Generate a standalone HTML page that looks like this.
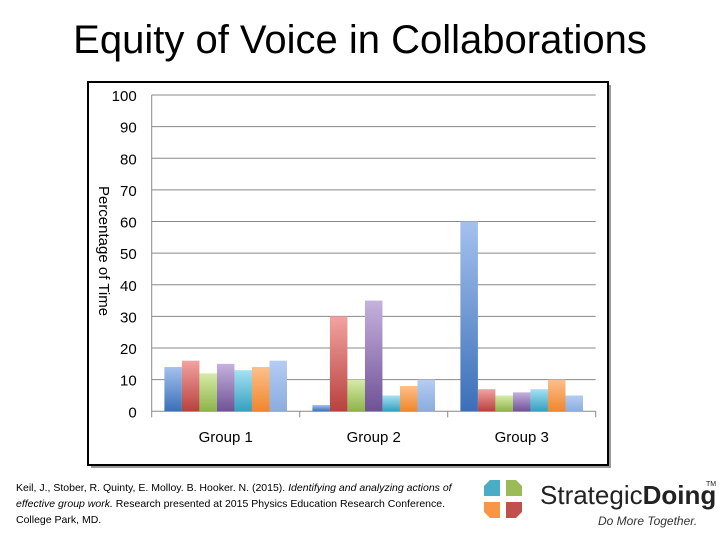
<!DOCTYPE html>
<html><head><meta charset="utf-8">
<style>
body{margin:0;width:720px;height:540px;background:#fff;font-family:"Liberation Sans",sans-serif;overflow:hidden;position:relative}
#title{position:absolute;left:0;top:18px;width:720px;text-align:center;font-size:40px;color:#000}
#cite{position:absolute;left:16px;top:480px;font-size:10.5px;line-height:16px;color:#000;width:460px;font-family:"Liberation Sans Narrow","Liberation Sans",sans-serif}
</style></head><body>
<div id="title">Equity of Voice in Collaborations</div>
<svg id="chart" width="720" height="540" style="position:absolute;left:0;top:0">
<defs></defs>
<rect x="91" y="85" width="520" height="383" fill="#999"/>
<rect x="88" y="82" width="520" height="383" fill="#fff" stroke="#000" stroke-width="2"/>
<g id="plot"></g>
</svg>
<div id="cite">Keil, J., Stober, R. Quinty, E. Molloy. B. Hooker. N. (2015). <i>Identifying and analyzing actions of effective group work.</i> Research presented at 2015 Physics Education Research Conference. College Park, MD.</div>
<svg width="250" height="70" style="position:absolute;left:470px;top:470px">
<path d="M20 10 h10 v16 h-16 v-10 z" fill="#4bacc6"/>
<path d="M36 10 h10 l6 6 v10 h-16 z" fill="#9bbb59"/>
<path d="M14 32 h16 v16 h-10 l-6 -6 z" fill="#f79646"/>
<path d="M36 32 h16 v10 l-6 6 h-10 z" fill="#c0504d"/>
<text x="70" y="34" font-size="26" fill="#222" font-family="Liberation Sans Narrow, Liberation Sans, sans-serif">Strategic<tspan font-weight="bold">Doing</tspan></text>
<text x="236" y="16" font-size="7" fill="#222">TM</text>
<text x="128" y="55" font-size="12" fill="#333" font-style="italic">Do More Together.</text>
</svg>
<script>
const categories=["Group 1","Group 2","Group 3"];
const s1=[14,2,60];
const s2=[16,30,7];
const s3=[12,10,5];
const s4=[15,35,6];
const s5=[13,5,7];
const s6=[14,8,10];
const s7=[16,10,5];
const yTicks=[0,10,20,30,40,50,60,70,80,90,100];
const series=[s1,s2,s3,s4,s5,s6,s7];
const colors=[["#a5c1ee","#3a6fb8"],["#f2a3a1","#b8413d"],["#d5eca6","#8db34a"],["#c5b2de","#6f5296"],["#a5e1f3","#34a0c0"],["#fcc08b","#f0862c"],["#b4cdf2","#8aacdf"]];
const NS="http://www.w3.org/2000/svg";
const x0=151.7,x1=595.7,y0=411.3,yTop=95;
const y=v=>y0-(v/100)*(y0-yTop);
const gw=(x1-x0)/categories.length, pad=12.7, bw=(gw-2*pad)/series.length;
const g=document.getElementById('plot'), defs=document.querySelector('defs');
function mk(t,a){const e=document.createElementNS(NS,t);for(const k in a)e.setAttribute(k,a[k]);return e;}
colors.forEach((c,i)=>{const lg=mk('linearGradient',{id:'g'+i,x1:0,y1:0,x2:0,y2:1});lg.appendChild(mk('stop',{offset:0,'stop-color':c[0]}));lg.appendChild(mk('stop',{offset:1,'stop-color':c[1]}));defs.appendChild(lg);});
yTicks.forEach(t=>{
 const l=mk('line',{x1:x0,x2:x1,y1:y(t),y2:y(t),stroke:'#888','stroke-width':1});
 
 
 g.appendChild(l);
 const tx=mk('text',{x:x0-15,y:y(t)+6,'text-anchor':'end','font-size':15,fill:'#000'});
 tx.textContent=t;
 
 
 g.appendChild(tx);
});
const ax=mk('line',{x1:x0,x2:x0,y1:yTop,y2:y0,stroke:'#888'});


g.appendChild(ax);
for(let i=0;i<=categories.length;i++){const tk=mk('line',{x1:x0+i*gw,x2:x0+i*gw,y1:y0,y2:y0+6,stroke:'#888'});
 
 
 g.appendChild(tk);}
categories.forEach((c,ci)=>{
 series.forEach((s,si)=>{
  const r=mk('rect',{x:x0+ci*gw+pad+si*bw,y:y(s[ci]),width:bw,height:y0-y(s[ci]),fill:'url(#g'+si+')'});
  
  
  g.appendChild(r);
 });
 const t=mk('text',{x:x0+ci*gw+gw/2,y:442,'text-anchor':'middle','font-size':15});
 t.textContent=c;
 
 
 g.appendChild(t);
});
const yt=mk('text',{x:0,y:0,'font-size':15,'text-anchor':'middle',transform:'translate(99,251) rotate(90)'});
yt.textContent='Percentage of Time';


g.appendChild(yt);
</script>
</body></html>
